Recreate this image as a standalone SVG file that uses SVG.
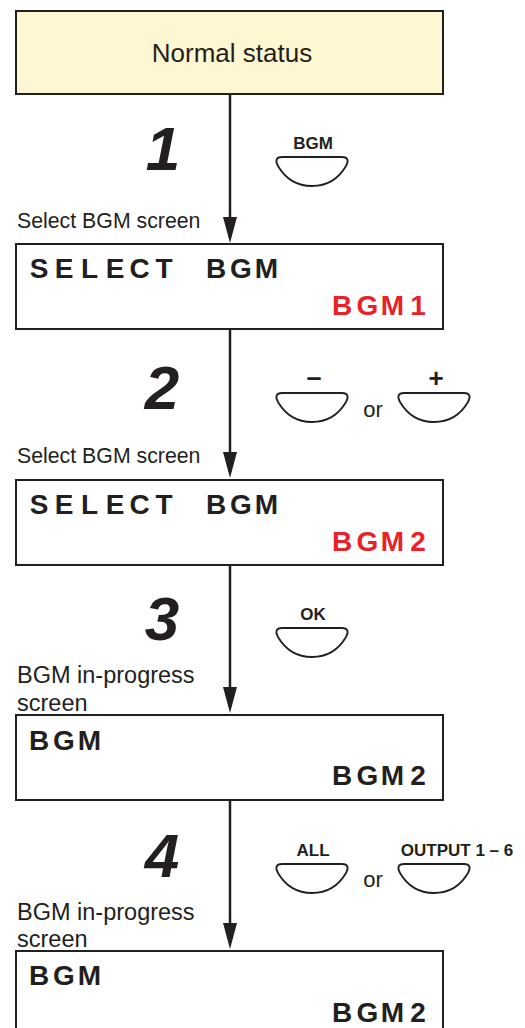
<svg xmlns="http://www.w3.org/2000/svg" width="525" height="1028" viewBox="0 0 525 1028">
<style>
.box{fill:#fff;stroke:#231f20;stroke-width:2}
.start{fill:#fff7d1;stroke:#231f20;stroke-width:2}
.lcd{font-family:"Liberation Sans",Arial,sans-serif;font-weight:bold;font-size:28px;fill:#231f20;text-anchor:middle}
.red{fill:#e8212b}
.cap{font-family:"Liberation Sans",Arial,sans-serif;font-size:21.3px;fill:#231f20}
.cap2{font-family:"Liberation Sans",Arial,sans-serif;font-size:23.5px;fill:#231f20}
.step{font-family:"Liberation Sans",Arial,sans-serif;font-weight:bold;font-style:italic;font-size:62px;fill:#231f20;text-anchor:middle}
.lbl{font-family:"Liberation Sans",Arial,sans-serif;font-weight:bold;font-size:17px;fill:#231f20;text-anchor:middle}
.sym{font-family:"Liberation Sans",Arial,sans-serif;font-weight:bold;font-size:26px;fill:#231f20;text-anchor:middle}
.or{font-family:"Liberation Sans",Arial,sans-serif;font-size:22px;fill:#231f20;text-anchor:middle}
.btn{fill:#fff;stroke:#231f20;stroke-width:1.8}
.conn{stroke:#231f20;stroke-width:2.5;fill:none}
</style>
<defs>
<marker id="arr" viewBox="0 0 26 14" refX="20" refY="7" markerWidth="26" markerHeight="14" markerUnits="userSpaceOnUse" orient="auto">
<path d="M0,0 L26,7 L0,14 Z" fill="#231f20"/>
</marker>
<path id="button" d="M-30,0 H30 C36,0 37,4 34,9 C27,21 16,29 0,29 C-16,29 -27,21 -34,9 C-37,4 -36,0 -30,0 Z"/>
</defs>

<g id="connectors">
<line class="conn" x1="230" y1="94" x2="230" y2="237" marker-end="url(#arr)"/>
<line class="conn" x1="230" y1="329" x2="230" y2="472" marker-end="url(#arr)"/>
<line class="conn" x1="230" y1="565" x2="230" y2="707" marker-end="url(#arr)"/>
<line class="conn" x1="230" y1="800" x2="230" y2="943" marker-end="url(#arr)"/>
</g>

<g id="node-normal">
<rect class="start" x="16" y="11" width="427" height="83"/>
<text class="cap" x="232" y="62" text-anchor="middle" style="font-size:26px">Normal status</text>
</g>

<g id="step1">
<text class="step" x="163" y="170">1</text>
<text class="lbl" x="313" y="149">BGM</text>
<use href="#button" class="btn" x="312" y="157"/>
</g>

<g id="node-select1">
<text class="cap" x="17" y="228">Select BGM screen</text>
<rect class="box" x="16" y="244" width="427" height="85"/>
<text class="lcd" x="39 64 89.5 115 139.5 164 216 241 266.5" y="278">SELECTBGM</text>
<text class="lcd red" x="342 367.5 392.5 418" y="315">BGM1</text>
</g>

<g id="step2">
<text class="step" x="162" y="409">2</text>
<text class="sym" x="314" y="386" style="font-size:27px">–</text>
<use href="#button" class="btn" x="312" y="393"/>
<text class="or" x="373" y="417">or</text>
<text class="sym" x="436" y="387">+</text>
<use href="#button" class="btn" x="434" y="393"/>
</g>

<g id="node-select2">
<text class="cap" x="17" y="463">Select BGM screen</text>
<rect class="box" x="16" y="480" width="427" height="85"/>
<text class="lcd" x="39 64 89.5 115 139.5 164 216 241 266.5" y="514">SELECTBGM</text>
<text class="lcd red" x="342 367.5 392.5 418" y="551">BGM2</text>
</g>

<g id="step3">
<text class="step" x="162" y="640">3</text>
<text class="lbl" x="313" y="620">OK</text>
<use href="#button" class="btn" x="312" y="628"/>
</g>

<g id="node-progress1">
<text class="cap2" x="17" y="683">BGM in-progress</text>
<text class="cap2" x="17" y="711">screen</text>
<rect class="box" x="16" y="715" width="427" height="85"/>
<text class="lcd" x="39 64 89.5" y="750">BGM</text>
<text class="lcd" x="342 367.5 392.5 418" y="785">BGM2</text>
</g>

<g id="step4">
<text class="step" x="162" y="877">4</text>
<text class="lbl" x="313" y="856">ALL</text>
<use href="#button" class="btn" x="312" y="864"/>
<text class="or" x="373" y="887">or</text>
<text class="lbl" x="457" y="856">OUTPUT 1 – 6</text>
<use href="#button" class="btn" x="434" y="864"/>
</g>

<g id="node-progress2">
<text class="cap2" x="17" y="920">BGM in-progress</text>
<text class="cap2" x="17" y="947">screen</text>
<rect class="box" x="16" y="951" width="427" height="100"/>
<text class="lcd" x="39 64 89.5" y="985">BGM</text>
<text class="lcd" x="342 367.5 392.5 418" y="1022">BGM2</text>
</g>
</svg>
